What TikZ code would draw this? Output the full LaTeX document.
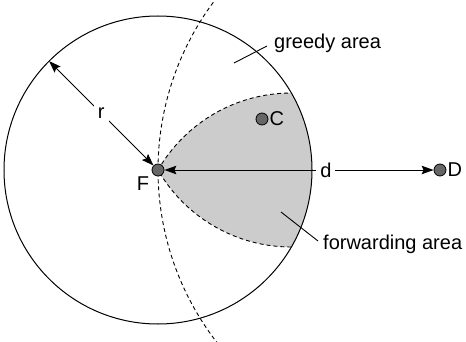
\documentclass[tikz,border=0pt]{standalone}
\usepackage{fontspec}
\setmainfont{Liberation Sans}
\usetikzlibrary{arrows.meta,calc}
\begin{document}
\begin{tikzpicture}[x=1pt,y=1pt,
  lbl/.style={font=\fontsize{20}{24}\selectfont, inner sep=2pt},
  dot/.style={circle, draw=black, line width=0.8pt, fill=black!60, minimum size=12pt, inner sep=0pt},
  dsh/.style={dash pattern=on 4pt off 3pt, line width=0.9pt},
  arr/.style={line width=0.9pt, {Stealth[length=12pt,width=8.5pt,inset=2pt]}-{Stealth[length=12pt,width=8.5pt,inset=2pt]}},
  lead/.style={line width=0.9pt}]
\useasboundingbox (0,0) rectangle (466,341);
\def\R{154}
\coordinate (Fc) at (158,171);
\coordinate (Dc) at (440,171);
% forwarding area (Reuleaux triangle)
\coordinate (P1) at ($(Fc)+(30:\R)$);
\coordinate (P2) at ($(Fc)+(-30:\R)$);
\fill[black!20] (Fc) arc[start angle=150,end angle=90,radius=\R]
   arc[start angle=30,end angle=-30,radius=\R]
   arc[start angle=270,end angle=210,radius=\R] -- cycle;
\draw[dsh] (Fc) arc[start angle=150,end angle=90,radius=\R];
\draw[dsh] (P2) arc[start angle=270,end angle=210,radius=\R];
% transmission circle
\draw[line width=1pt] (Fc) circle[radius=\R];
% greedy boundary arc (circle around D through F)
\draw[dsh] ($(Dc)+(143.5:282)$) arc[start angle=143.5,end angle=218,radius=282];
% nodes
\node[dot] (F) at (Fc) {};
\node[dot] (C) at (262,222) {};
\node[dot] (D) at (Dc) {};
\node[lbl] (Fl) at (143,157) {F};
\node[lbl, anchor=west, inner sep=1pt] (Cl) at (C.east) {C};
\node[lbl, anchor=west, inner sep=1pt] (Dl) at (D.east) {D};
% radius arrow
\coordinate (rp) at ($(Fc)+(135:\R)$);
\draw[arr] (rp) -- (F) node[lbl, midway, fill=white, inner sep=4pt] {r};
% distance arrow
\draw[arr] (F) -- (D) node[lbl, pos=0.6, fill=white, inner sep=4pt] {d};
% area labels
\node[lbl, anchor=base west] (greedy) at (272,293) {greedy area};
\node[lbl, anchor=base west] (fwd) at (321,92) {forwarding area};
\coordinate (g1) at (234,278);
\coordinate (g2) at (267,295);
\coordinate (f1) at (281,129);
\coordinate (f2) at (318,100);
\draw[lead] (g1) -- (g2);
\draw[lead] (f1) -- (f2);
\end{tikzpicture}
\end{document}
